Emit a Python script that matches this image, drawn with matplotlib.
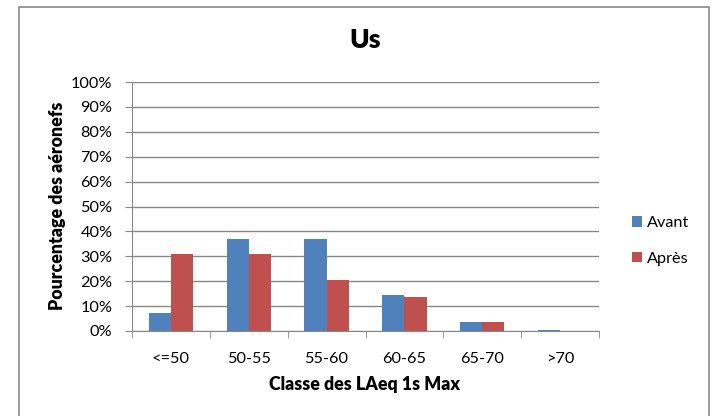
import matplotlib
matplotlib.use("Agg")
import matplotlib.pyplot as plt
import numpy as np
from matplotlib.patches import Rectangle
from matplotlib.ticker import PercentFormatter

categories = ["<=50", "50-55", "55-60", "60-65", "65-70", ">70"]
avant = [7.1, 36.9, 36.9, 14.5, 3.5, 0.4]
apres = [30.9, 31.0, 20.5, 13.8, 3.5, 0.0]
series_names = ["Avant", "Après"]
colors = ["#4F81BD", "#C0504D"]

plt.rcParams['font.family'] = ['Lato', 'DejaVu Sans']

W, H = 712, 416
fig = plt.figure(figsize=(W / 100, H / 100), dpi=100)
ax = fig.add_axes([132 / W, (H - 331) / H, (599 - 132) / W, (331 - 82) / H])

x = np.arange(len(categories))
bw = 1 / 3.5
ax.bar(x - bw / 2, avant, bw, color=colors[0], label=series_names[0], zorder=3)
ax.bar(x + bw / 2, apres, bw, color=colors[1], label=series_names[1], zorder=3)

ax.set_xlim(-0.5, len(categories) - 0.5)
ax.set_ylim(0, 100)
ax.set_yticks(np.arange(0, 101, 10))
ax.yaxis.set_major_formatter(PercentFormatter(decimals=0))
ax.grid(axis='y', color='#888888', linewidth=1, zorder=0)

ax.set_xticks(x)
ax.set_xticklabels(categories)
ax.set_xticks(np.arange(-0.5, len(categories)), minor=True)
ax.tick_params(axis='x', which='major', length=0, pad=15, labelsize=11.7)
ax.tick_params(axis='x', which='minor', length=5, color='#888888', direction='out')
ax.tick_params(axis='y', length=5, color='#888888', labelsize=11.7, pad=9)

for s in ['top', 'right']:
    ax.spines[s].set_visible(False)
for s in ['left', 'bottom']:
    ax.spines[s].set_color('#888888')

fig.text(365 / W, 1 - 384.5 / H, "Classe des LAeq 1s Max", ha='center', va='center',
         fontsize=12.8, fontweight='heavy')
fig.text(57 / W, 1 - 206 / H, "Pourcentage des aéronefs", ha='center', va='center',
         rotation=90, fontsize=12.8, fontweight='heavy')
fig.text(365 / W, 1 - 40 / H, "Us", ha='center', va='center', fontsize=19, fontweight='heavy')

leg = ax.legend(loc='center left', bbox_to_anchor=(617 / W, 1 - 241 / H),
                bbox_transform=fig.transFigure, frameon=False, fontsize=11.7,
                handlelength=0.65, handleheight=0.65, labelspacing=1.3, handletextpad=0.3)

fig.patches.append(Rectangle((19 / W, -0.1), (709 - 19) / W, 1.1 - 7 / H,
                             transform=fig.transFigure, fill=False,
                             edgecolor='#888888', linewidth=1.2))

fig.savefig("out.png", dpi=100)
